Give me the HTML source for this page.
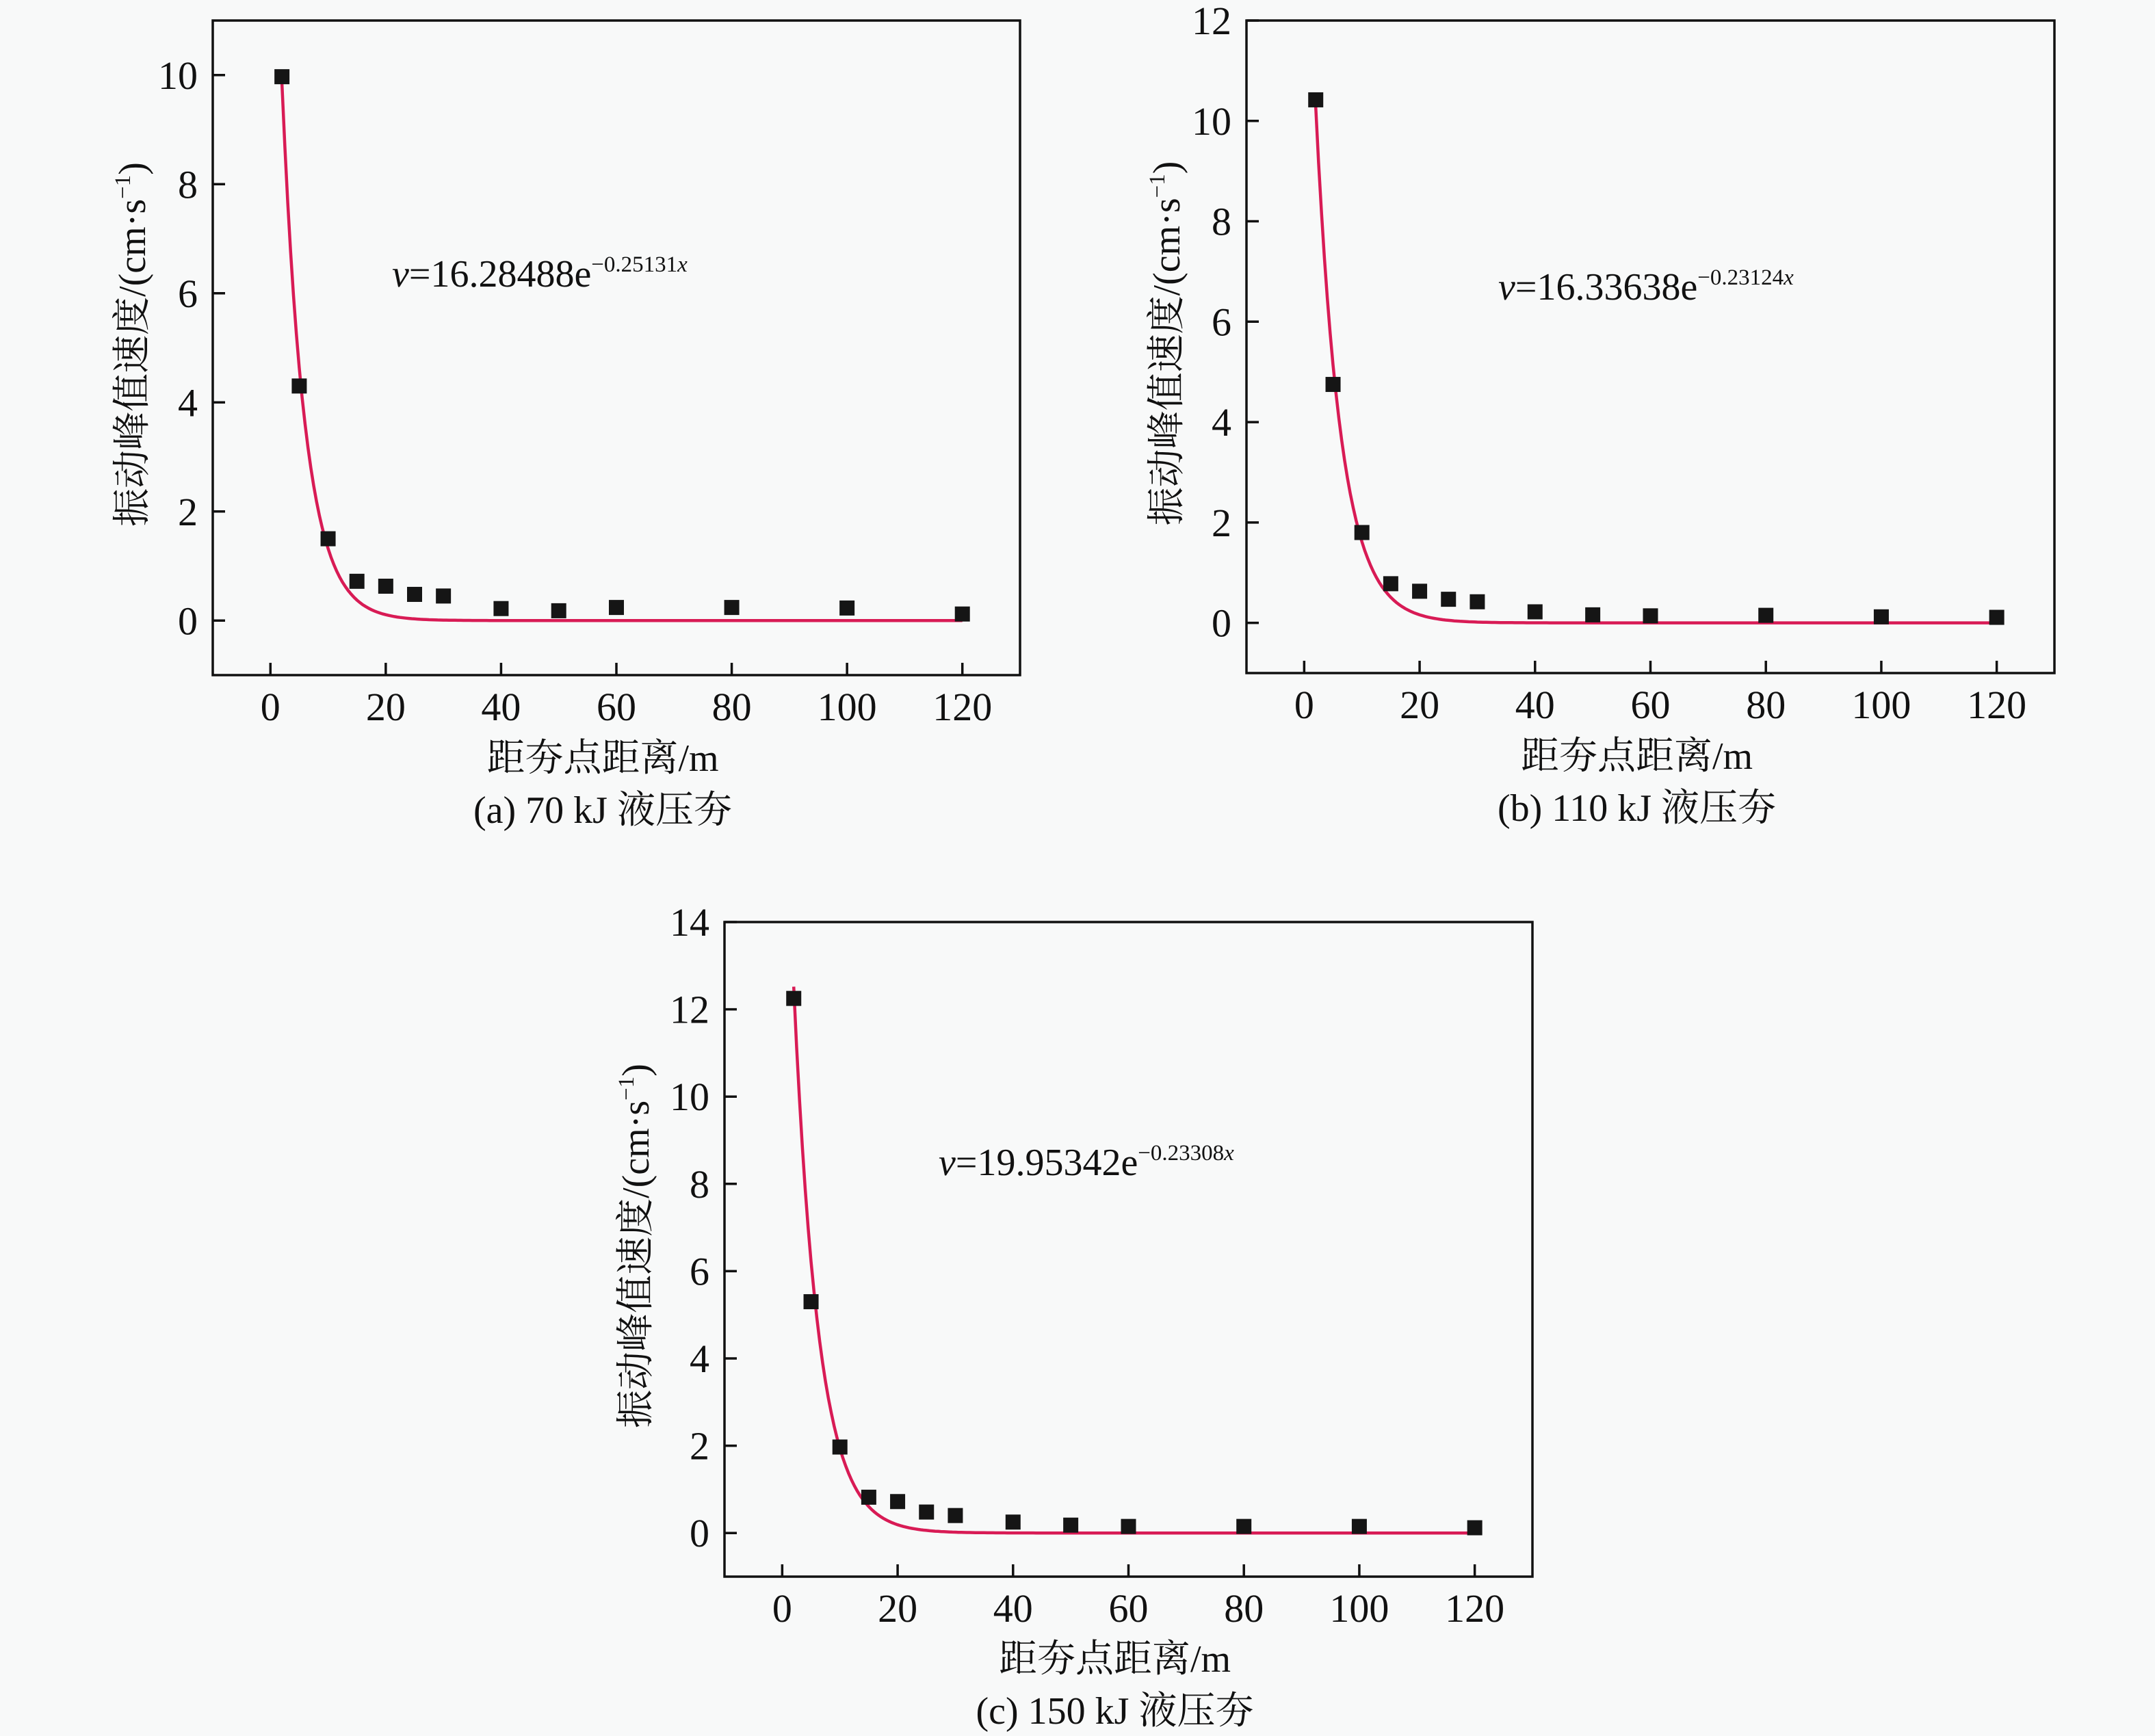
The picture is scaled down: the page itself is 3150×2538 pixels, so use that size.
<!DOCTYPE html>
<html><head><meta charset="utf-8"><style>
html,body{margin:0;padding:0;background:#f8f9f9;}
svg{display:block;}
text{font-family:"Liberation Serif","Noto Serif CJK SC","Noto Sans CJK SC",serif;fill:#111;}
</style></head><body>
<svg id="s" width="3150" height="2538" viewBox="0 0 3150 2538" xmlns="http://www.w3.org/2000/svg">
<rect width="3150" height="2538" fill="#f8f9f9"/>
<g id="g"></g>
</svg>
<script>
var NS="http://www.w3.org/2000/svg";
var g=document.getElementById("g");
function el(t,a,txt){var e=document.createElementNS(NS,t);for(var k in a)e.setAttribute(k,a[k]);if(txt!==undefined)e.textContent=txt;g.appendChild(e);return e;}
var xs=[2,5,10,15,20,25,30,40,50,60,80,100,120];
var charts=[
{L:311,R:1491,T:30,B:987,ymin:-1,ymax:11,yt:[0,2,4,6,8,10],A:16.28488,k:0.25131,
 ys:[9.97,4.3,1.5,0.72,0.63,0.48,0.45,0.22,0.18,0.24,0.24,0.23,0.12],
 eq:["v","=16.28488e","\u22120.25131",573,419],cap:"(a) 70 kJ 液压夯",xl:1127,cp:1203,ylx:212},
{L:1822,R:3003,T:30,B:984,ymin:-1,ymax:12,yt:[0,2,4,6,8,10,12],A:16.33638,k:0.23124,
 ys:[10.42,4.75,1.8,0.78,0.63,0.47,0.42,0.22,0.16,0.14,0.15,0.12,0.11],
 eq:["v","=16.33638e","\u22120.23124",2190,438],cap:"(b) 110 kJ 液压夯",xl:1124,cp:1200,ylx:1724},
{L:1059,R:2240,T:1348,B:2305,ymin:-1,ymax:14,yt:[0,2,4,6,8,10,12,14],A:19.95342,k:0.23308,
 ys:[12.25,5.3,1.97,0.82,0.72,0.48,0.4,0.25,0.18,0.15,0.15,0.15,0.12],
 eq:["v","=19.95342e","\u22120.23308",1372,1718],cap:"(c) 150 kJ 液压夯",xl:2444,cp:2520,ylx:948}
];
charts.forEach(function(c){
 function X(v){return c.L+(v+10)/140*(c.R-c.L);}
 function Y(v){return c.B-(v-c.ymin)/(c.ymax-c.ymin)*(c.B-c.T);}
 el("rect",{x:c.L,y:c.T,width:c.R-c.L,height:c.B-c.T,fill:"none",stroke:"#111","stroke-width":3.5});
 [0,20,40,60,80,100,120].forEach(function(v){
  var x=X(v);el("line",{x1:x,y1:c.B,x2:x,y2:c.B-18,stroke:"#111","stroke-width":3.5});
  el("text",{x:x,y:c.B+66,"font-size":58,"text-anchor":"middle"},String(v));
 });
 c.yt.forEach(function(v){
  var y=Y(v);el("line",{x1:c.L,y1:y,x2:c.L+18,y2:y,stroke:"#111","stroke-width":3.5});
  el("text",{x:c.L-22,y:y+20,"font-size":58,"text-anchor":"end"},String(v));
 });
 var d="";for(var x=2;x<=120;x+=0.5){var yy=c.A*Math.exp(-c.k*x);d+=(x==2?"M":"L")+X(x).toFixed(1)+" "+Y(yy).toFixed(1);}
 el("path",{d:d,fill:"none",stroke:"#d81b55","stroke-width":4.5});
 xs.forEach(function(v,i){el("rect",{x:X(v)-11,y:Y(c.ys[i])-11,width:22,height:22,fill:"#151515"});});
 var t=el("text",{x:c.eq[3],y:c.eq[4],"font-size":56});
 var s1=document.createElementNS(NS,"tspan");s1.setAttribute("font-style","italic");s1.textContent=c.eq[0];t.appendChild(s1);
 var s2=document.createElementNS(NS,"tspan");s2.textContent=c.eq[1];t.appendChild(s2);
 var s3=document.createElementNS(NS,"tspan");s3.setAttribute("font-size","33");s3.setAttribute("dy","-22");s3.textContent=c.eq[2];t.appendChild(s3);
 var s4=document.createElementNS(NS,"tspan");s4.setAttribute("font-size","33");s4.setAttribute("font-style","italic");s4.textContent="x";t.appendChild(s4);
 var cx=(c.L+c.R)/2-20;
 el("text",{x:cx,y:c.xl,"font-size":56,"text-anchor":"middle"},"距夯点距离/m");
 el("text",{x:cx,y:c.cp,"font-size":56,"text-anchor":"middle"},c.cap);
 var cy=(c.T+c.B)/2-5;
 var yl=el("text",{x:0,y:0,"font-size":56,"text-anchor":"middle",transform:"translate("+c.ylx+","+cy+") rotate(-90)"});
 var a=document.createElementNS(NS,"tspan");a.textContent="振动峰值速度/(cm·s";yl.appendChild(a);
 var b=document.createElementNS(NS,"tspan");b.setAttribute("font-size","33");b.setAttribute("dy","-22");b.textContent="\u22121";yl.appendChild(b);
 var e=document.createElementNS(NS,"tspan");e.setAttribute("dy","22");e.textContent=")";yl.appendChild(e);
});
</script>
</body></html>
